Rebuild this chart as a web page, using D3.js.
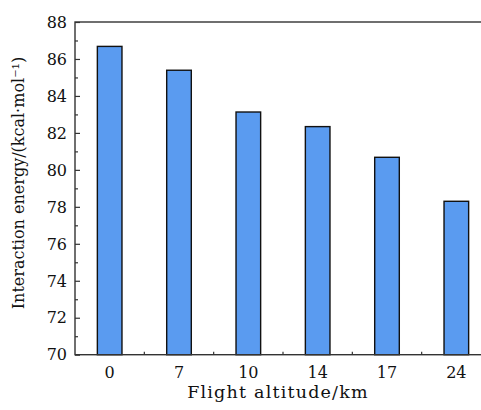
<!DOCTYPE html>
<html>
<head>
<meta charset="utf-8">
<script src="https://cdn.jsdelivr.net/npm/d3@7"></script>
<style>
  body { margin: 0; background: #fff; }
  text { font-family: "DejaVu Serif", serif; fill: #111; }
</style>
</head>
<body>
<svg id="chart" width="481" height="410"></svg>
<script>
const altitudes = ["0", "7", "10", "14", "17", "24"];
const energies = [86.68, 85.39, 83.13, 82.34, 80.68, 78.3];
const yTicks = [70, 72, 74, 76, 78, 80, 82, 84, 86, 88];

let svg = d3.select("#chart");

let plotLeft = 75, plotRight = 491, plotTop = 22, plotBottom = 354.7;

let x = d3.scaleBand().domain(altitudes).range([plotLeft, plotRight]).paddingInner(0.645).paddingOuter(0.3225);
let y = d3.scaleLinear().domain([70, 88]).range([plotBottom, plotTop]);

// bars
svg.append("g")
  .selectAll("rect")
  .data(energies)
  .enter()
  .append("rect")
  .attr("x", (d, i) => x(altitudes[i]))
  .attr("y", (d) => y(d))
  .attr("width", x.bandwidth())
  .attr("height", (d) => y(70) - y(d))
  .attr("fill", "#5a9bf0")
  .attr("stroke", "#111")
  .attr("stroke-width", 1.4);

// frame
svg.append("rect")
  .attr("x", plotLeft)
  .attr("y", plotTop)
  .attr("width", plotRight - plotLeft)
  .attr("height", plotBottom - plotTop)
  .attr("fill", "none")
  .attr("stroke", "#333")
  .attr("stroke-width", 1.4);

// y axis: major ticks inside, minor ticks inside
let yAxis = svg.append("g").attr("transform", `translate(${plotLeft},0)`)
  .call(d3.axisRight(y).tickValues(yTicks).tickSize(5).tickFormat(""));
yAxis.select(".domain").remove();
yAxis.selectAll("line").attr("stroke", "#333").attr("stroke-width", 1.2);

let minor = d3.range(71, 88, 2);
svg.append("g").attr("transform", `translate(${plotLeft},0)`)
  .call(d3.axisRight(y).tickValues(minor).tickSize(3).tickFormat(""))
  .call((g) => g.select(".domain").remove())
  .selectAll("line").attr("stroke", "#333").attr("stroke-width", 1.2);

svg.append("g")
  .selectAll("text")
  .data(yTicks)
  .enter()
  .append("text")
  .attr("x", plotLeft - 8)
  .attr("y", (d) => y(d))
  .attr("dy", "0.36em")
  .attr("text-anchor", "end")
  .attr("font-size", 16)
  .text((d) => d);

// x axis: ticks between categories, pointing up
let bounds = altitudes.slice(1).map((a) => x(a) - x.step() * x.paddingInner() / 2);
svg.append("g")
  .selectAll("line")
  .data(bounds)
  .enter()
  .append("line")
  .attr("x1", (d) => d)
  .attr("x2", (d) => d)
  .attr("y1", plotBottom)
  .attr("y2", plotBottom - 3)
  .attr("stroke", "#333")
  .attr("stroke-width", 1.2);

svg.append("g")
  .selectAll("text")
  .data(altitudes)
  .enter()
  .append("text")
  .attr("x", (d) => x(d) + x.bandwidth() / 2)
  .attr("y", plotBottom + 23)
  .attr("text-anchor", "middle")
  .attr("font-size", 16)
  .text((d) => d);

// axis titles
svg.append("text")
  .attr("x", 278)
  .attr("y", 398)
  .attr("text-anchor", "middle")
  .attr("font-size", 17.5)
  .attr("letter-spacing", 1.2)
  .text("Flight altitude/km");

svg.append("text")
  .attr("transform", `translate(24,183) rotate(-90)`)
  .attr("text-anchor", "middle")
  .attr("font-size", 16)
  .text("Interaction energy/(kcal·mol⁻¹)");
</script>
</body>
</html>
